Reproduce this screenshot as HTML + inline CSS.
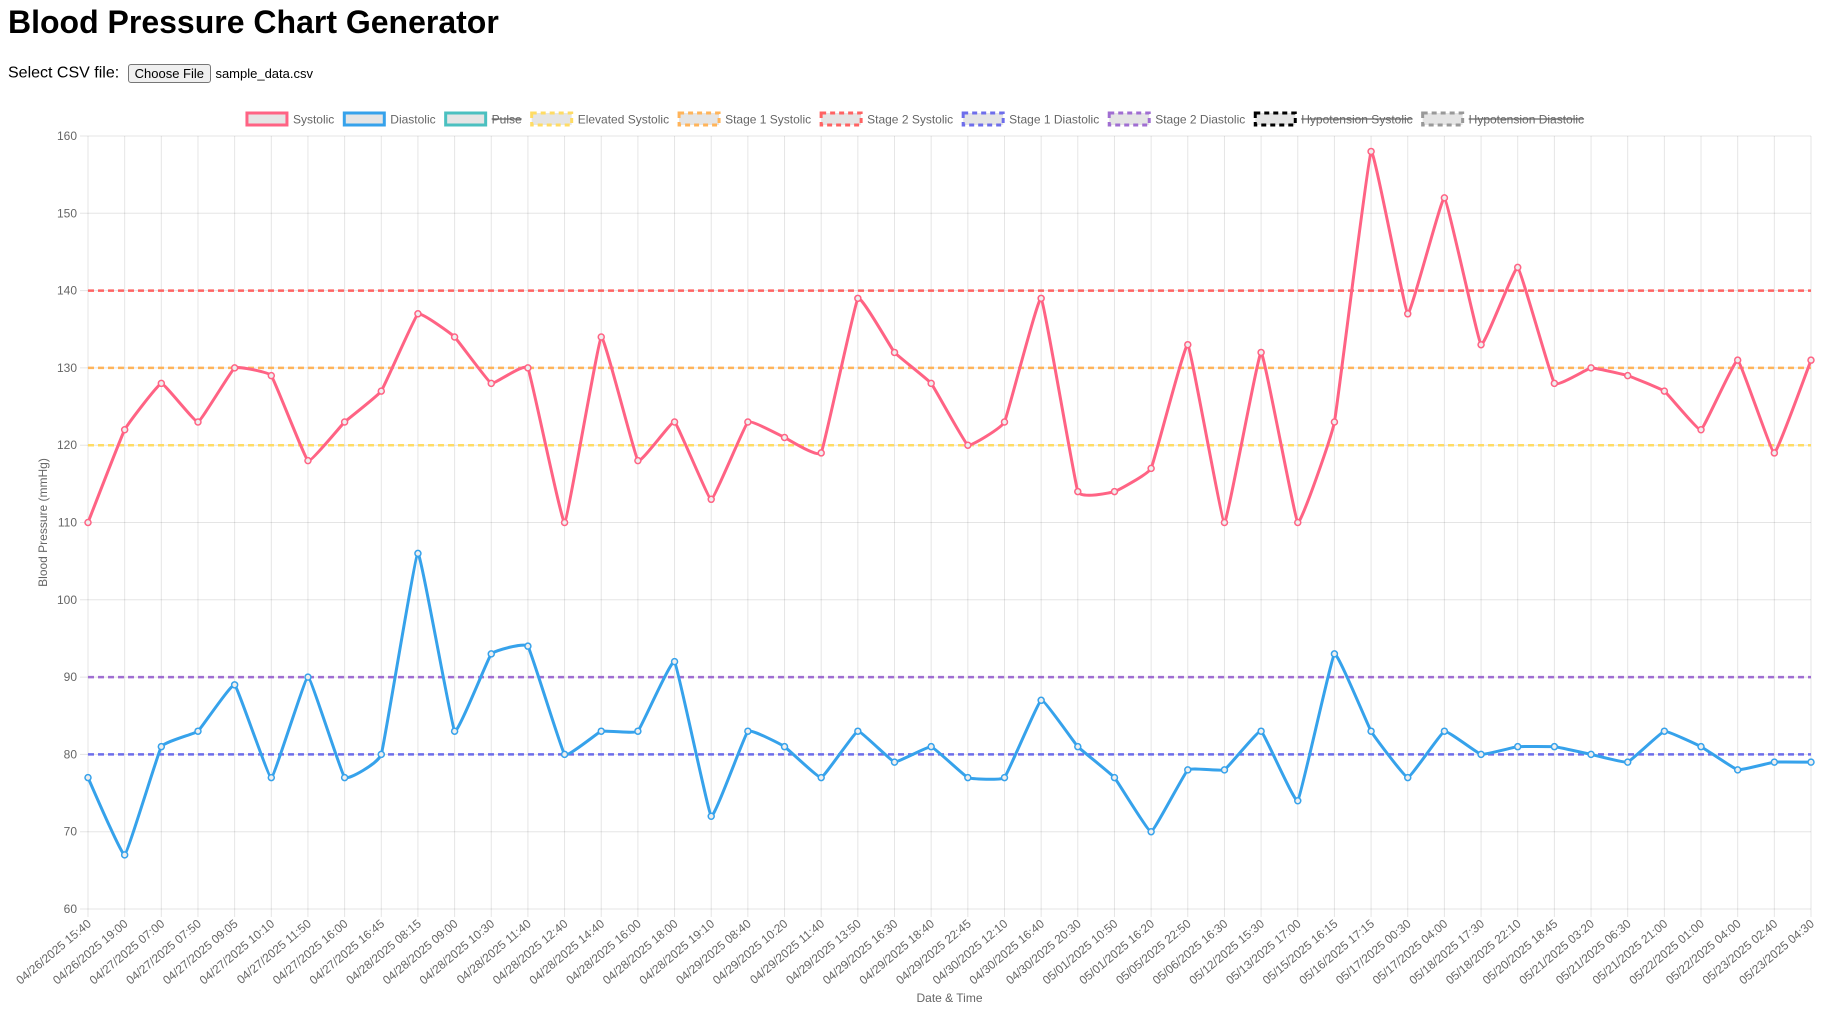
<!DOCTYPE html>
<html><head><meta charset="utf-8">
<style>
body{margin:0;background:#fff;font-family:"Liberation Sans",Arial,sans-serif;width:1821px;height:1012px;overflow:hidden}
h1{margin:0;position:absolute;left:8px;top:4px;font-size:32px;font-weight:bold}
.ctl{position:absolute;left:8px;top:64px;font-size:16px}
.btn{display:inline-block;border:1px solid #767676;border-radius:3px;background:#efefef;padding:1px 6px;font-size:13px;margin-left:4px;vertical-align:middle}
.fn{font-size:13px;vertical-align:middle}
svg{position:absolute;left:0;top:0}
</style></head><body>
<h1>Blood Pressure Chart Generator</h1>
<div class="ctl">Select CSV file: <span class="btn">Choose File</span> <span class="fn">sample_data.csv</span></div>
<svg id="c" width="1821" height="1012"></svg>
<script>
const labels=["04/26/2025 15:40","04/26/2025 19:00","04/27/2025 07:00","04/27/2025 07:50","04/27/2025 09:05","04/27/2025 10:10","04/27/2025 11:50","04/27/2025 16:00","04/27/2025 16:45","04/28/2025 08:15","04/28/2025 09:00","04/28/2025 10:30","04/28/2025 11:40","04/28/2025 12:40","04/28/2025 14:40","04/28/2025 16:00","04/28/2025 18:00","04/28/2025 19:10","04/29/2025 08:40","04/29/2025 10:20","04/29/2025 11:40","04/29/2025 13:50","04/29/2025 16:30","04/29/2025 18:40","04/29/2025 22:45","04/30/2025 12:10","04/30/2025 16:40","04/30/2025 20:30","05/01/2025 10:50","05/01/2025 16:20","05/05/2025 22:50","05/06/2025 16:30","05/12/2025 15:30","05/13/2025 17:00","05/15/2025 16:15","05/16/2025 17:15","05/17/2025 00:30","05/17/2025 04:00","05/18/2025 17:30","05/18/2025 22:10","05/20/2025 18:45","05/21/2025 03:20","05/21/2025 06:30","05/21/2025 21:00","05/22/2025 01:00","05/22/2025 04:00","05/23/2025 02:40","05/23/2025 04:30"];
const systolic=[110,122,128,123,130,129,118,123,127,137,134,128,130,110,134,118,123,113,123,121,119,139,132,128,120,123,139,114,114,117,133,110,132,110,123,158,137,152,133,143,128,130,129,127,122,131,119,131];
const diastolic=[77,67,81,83,89,77,90,77,80,106,83,93,94,80,83,83,92,72,83,81,77,83,79,81,77,77,87,81,77,70,78,78,83,74,93,83,77,83,80,81,81,80,79,83,81,78,79,79];
const yTicks=[60,70,80,90,100,110,120,130,140,150,160];
const refNames=["Elevated Systolic","Stage 1 Systolic","Stage 2 Systolic","Stage 1 Diastolic","Stage 2 Diastolic"];
const refValues=[120,130,140,80,90];
const refColors=["rgb(255,220,100)","rgb(255,180,90)","rgb(255,99,99)","rgb(110,110,235)","rgb(160,110,210)"];
const NS="http://www.w3.org/2000/svg",svg=document.getElementById('c');
const X0=88,X1=1811,Y0=909,Y1=136;
const x=i=>X0+(X1-X0)*i/(labels.length-1);
const y=v=>Y0-(Y0-Y1)*(v-60)/100;
function mk(t,a,p){const e=document.createElementNS(NS,t);for(const k in a)e.setAttribute(k,a[k]);(p||svg).appendChild(e);return e;}
labels.forEach((l,i)=>{const g=mk('line',{x1:x(i),x2:x(i),y1:Y1,y2:Y0+8,stroke:'rgba(0,0,0,0.1)'});

const t=mk('text',{x:0,y:0,'font-size':12,fill:'#666','text-anchor':'end',transform:`translate(${x(i)+4},${Y0+16}) rotate(-40)`});t.textContent=l;
});
yTicks.forEach(v=>{const g=mk('line',{x1:X0-8,x2:X1,y1:y(v),y2:y(v),stroke:'rgba(0,0,0,0.1)'});

const t=mk('text',{x:X0-11,y:y(v)+4,'font-size':12,fill:'#666','text-anchor':'end'});t.textContent=v;
});
refValues.forEach((v,k)=>{const l=mk('line',{x1:X0,x2:X1,y1:y(v),y2:y(v),stroke:refColors[k],'stroke-width':2.5,'stroke-dasharray':'6,4'});
});
function series(vals,col,name){let d='';const t=0.04;const P=vals.map((v,i)=>[x(i),y(v)]);
P.forEach((p,i)=>{if(!i){d+=`M${p[0]},${p[1]}`;return;}const p0=P[i-2]||P[i-1],p1=P[i-1],p3=P[i+1]||p;
const c1=[p1[0]+(p[0]-p0[0])*t,p1[1]+(p[1]-p0[1])*t],c2=[p[0]-(p3[0]-p1[0])*t,p[1]-(p3[1]-p1[1])*t];
d+=`C${c1},${c2},${p}`;});
const pa=mk('path',{d,fill:'none',stroke:col,'stroke-width':3,'stroke-linejoin':'round'});

P.forEach(p=>{const c=mk('circle',{cx:p[0],cy:p[1],r:3,fill:'#eee',stroke:col,'stroke-width':1.5});
});}
series(systolic,'rgb(255,99,132)','systolic');
series(diastolic,'rgb(54,162,235)','diastolic');
let t=mk('text',{x:0,y:0,'font-size':12,fill:'#666','text-anchor':'middle',transform:`translate(47,${(Y0+Y1)/2}) rotate(-90)`});t.textContent='Blood Pressure (mmHg)';

t=mk('text',{x:(X0+X1)/2,y:1002,'font-size':12,fill:'#666','text-anchor':'middle'});t.textContent='Date & Time';

const leg=[["Systolic","rgb(255,99,132)",0,0],["Diastolic","rgb(54,162,235)",0,0],["Pulse","rgb(75,192,192)",0,1]]
.concat(refNames.map((n,k)=>[n,refColors[k],1,0])).concat([["Hypotension Systolic","#000",1,1],["Hypotension Diastolic","#999",1,1]]);
const lg=mk('g',{});
let items=[],tot=0;
leg.forEach(e=>{const g=mk('g',{},lg);
mk('rect',{x:0,y:-6,width:40,height:12,fill:'rgba(0,0,0,0.1)',stroke:e[1],'stroke-width':3,'stroke-dasharray':e[2]?'5,4':'none'},g);
const tx=mk('text',{x:46,y:4.5,'font-size':12,fill:'#666'},g);tx.textContent=e[0];
const w=46+tx.getComputedTextLength();if(e[3])mk('line',{x1:46,x2:w,y1:0,y2:0,stroke:'#666','stroke-width':1.2},g);
items.push([g,w]);tot+=w+10;});
let lx=(X0+X1)/2-(tot-10)/2-34;items.forEach(([g,w])=>{g.setAttribute('transform',`translate(${lx},119)`);lx+=w+10;});
</script>
</body></html>
